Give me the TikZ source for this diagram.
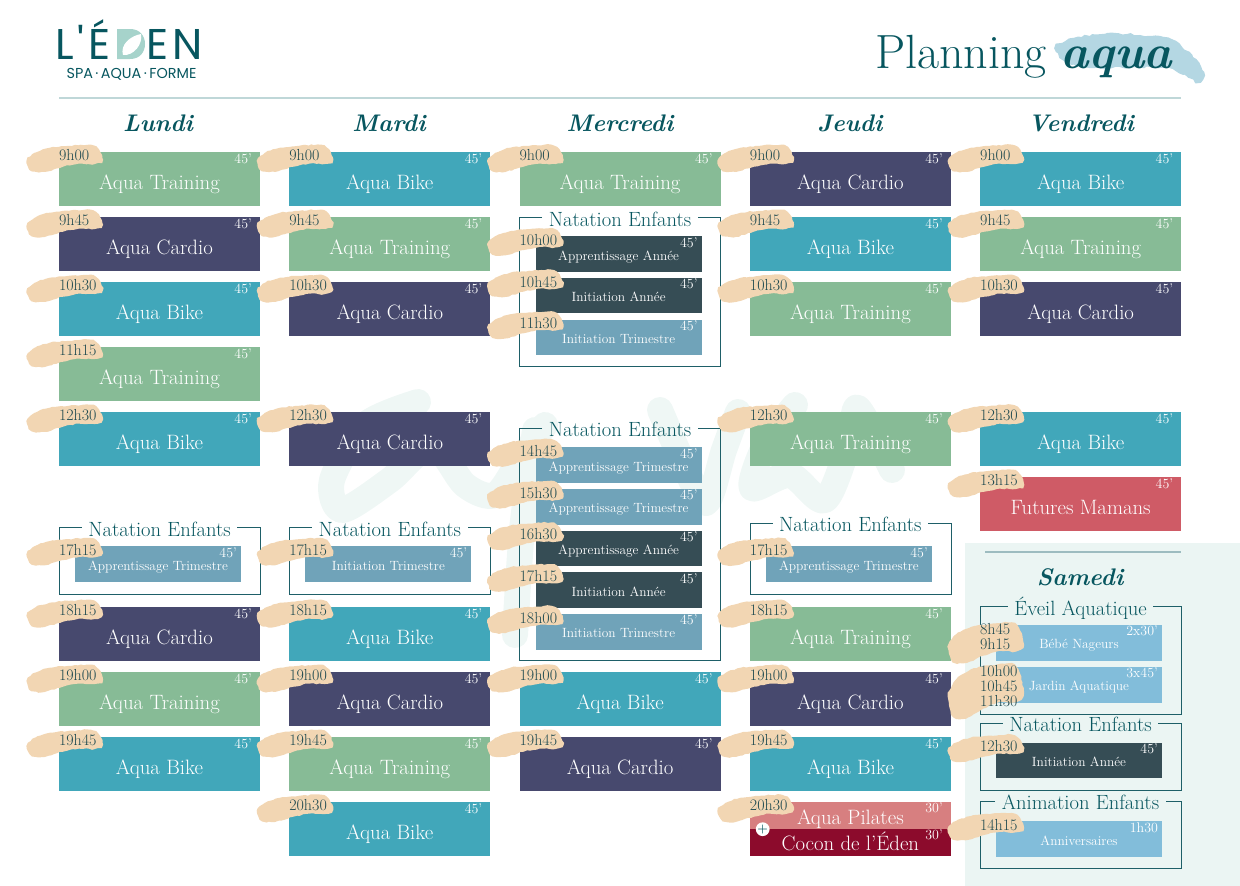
\documentclass[tikz,border=0pt]{standalone}
\usepackage{fontspec}
\usetikzlibrary{positioning,decorations.pathmorphing}
\newfontfamily\logofont[LetterSpace=9]{Poppins}
\newfontfamily\subfont{Poppins}
\newcommand{\fs}[1]{\fontsize{#1}{15}\selectfont}
\definecolor{ink}{HTML}{07565F}
\definecolor{frameink}{HTML}{1E5F68}
\definecolor{clockink}{HTML}{1F4A50}
\definecolor{rulecol}{HTML}{BFD7D8}
\definecolor{tan}{HTML}{F2D6B3}
\definecolor{wash}{HTML}{B4D7E3}
\definecolor{pale}{HTML}{EBF5F3}
\definecolor{ghost}{HTML}{EFF7F5}
\definecolor{logopale}{HTML}{A6D3CB}
\tikzstyle{slotbox}=[inner sep=0pt,minimum width=201pt,minimum height=53.5pt]
\tikzstyle{training}=[slotbox,fill={rgb,255:red,135;green,187;blue,150}]
\tikzstyle{bike}=[slotbox,fill={rgb,255:red,65;green,167;blue,186}]
\tikzstyle{cardio}=[slotbox,fill={rgb,255:red,71;green,73;blue,110}]
\tikzstyle{mamans}=[slotbox,fill={rgb,255:red,207;green,91;blue,102}]
\tikzstyle{kidbox}=[inner sep=0pt,minimum width=166pt,minimum height=35.5pt]
\tikzstyle{trim}=[kidbox,fill={rgb,255:red,112;green,163;blue,185}]
\tikzstyle{annee}=[kidbox,fill={rgb,255:red,54;green,77;blue,85}]
\tikzstyle{sky}=[kidbox,fill={rgb,255:red,130;green,189;blue,218}]
\tikzstyle{slotlabel}=[text=white,anchor=base,inner sep=0pt,font=\fs{20.8},yshift=-11pt]
\tikzstyle{kidlabel}=[text=white,anchor=base,inner sep=0pt,font=\fs{13.4},yshift=-6pt]
\tikzstyle{mins}=[text=white,anchor=north east,inner sep=0pt,font=\fs{14}]
\tikzstyle{clock}=[text=clockink,anchor=north west,inner sep=0pt,align=left,font=\fs{16}]
\tikzstyle{day}=[text=ink,anchor=base,font=\fs{24}\bfseries\itshape]
\tikzstyle{pooltitle}=[text=ink,anchor=base,inner sep=0pt,inner xsep=6.5pt,font=\fs{20.6}]
\tikzstyle{pool}=[draw=frameink,line width=.8pt]
\tikzstyle{ghostline}=[ghost,line width=26pt,line cap=round,line join=round]
\tikzset{brush/.pic={
  \fill[tan,decorate,decoration={random steps,segment length=3pt,amplitude=.6pt}]
    plot[smooth cycle] coordinates {(-32,6) (-24,-2) (-9,-7) (10,-9) (32,-10) (40,-5)
      (44,5) (36,9) (20,9) (4,12) (-14,17) (-27,16)};
}}
% box, then brush, then the texts on top of the brush
\newcommand{\slot}[5]{
  \node[#1] (#2) {};
  \pic at ([yshift=-3pt]#2.north west) {brush};
  \node[clock] (#2t) at ([yshift=3pt]#2.north west) {#3};
  \node[slotlabel] (#2l) at (#2) {#4};
  \node[mins] (#2d) at ([xshift=-8pt,yshift=-2pt]#2.north east) {#5};
}
\newcommand{\kid}[6][]{
  \node[#2] (#3) {};
  \pic[#1] at ([xshift=-16pt,yshift=-2pt]#3.north west) {brush};
  \node[clock] (#3t) at ([xshift=-16pt,yshift=2pt]#3.north west) {#4};
  \node[kidlabel] (#3l) at (#3) {#5};
  \node[mins] (#3d) at ([xshift=-4pt,yshift=-1pt]#3.north east) {#6};
}
\newcommand{\poolframe}[5]{
  \coordinate (#1nw) at (#2-100.5,#3);
  \coordinate (#1ne) at (#2+100.5,#3);
  \coordinate (#1sw) at (#2-100.5,#4);
  \coordinate (#1se) at (#2+100.5,#4);
  \node[pooltitle] (#1) at (#2,#3+8.5) {#5};
  \draw[pool] (#1.west |- #1nw) -- (#1nw) -- (#1sw) -- (#1se) -- (#1ne) -- (#1.east |- #1ne);
}
\begin{document}
\begin{tikzpicture}[x=1pt,y=-1pt,on grid,node distance=65pt and 230.3pt]
  \useasboundingbox (0,0) rectangle (1240,886);

  % faint word behind the grid
  \draw[ghostline] plot[smooth] coordinates
    {(418,402) (365,425) (332,480) (342,510) (390,480) (432,445) (465,485) (495,495) (520,460) (545,425)};
  \draw[ghostline] plot[smooth] coordinates {(535,430) (522,530) (515,635)};
  \draw[ghostline] plot[smooth] coordinates
    {(660,410) (682,460) (706,503) (724,450) (738,412)};
  \draw[ghostline] plot[smooth] coordinates
    {(795,405) (765,445) (752,488) (790,475) (825,500) (850,440) (858,408) (892,470)};

  % header
  \node[anchor=base west,inner sep=0pt,text=ink,font=\logofont\fs{43}] (logol) at (55,59) {L'É};
  \fill[logopale] (117,29) -- (130,29) .. controls (140,29) and (145,36) .. (145,44)
    .. controls (145,52) and (140,59) .. (130,59) -- (117,59) -- cycle;
  \node[anchor=base,inner sep=0pt,text=logopale,font=\subfont\fs{34}] (logod) at (130,56) {D};
  \fill[white] (123,55) .. controls (120,45) and (130,36) .. (141,34)
    .. controls (143,44) and (134,56) .. (123,55) -- cycle;
  \node[anchor=base west,inner sep=0pt,text=ink,font=\logofont\fs{43}] (logoe) at (146,59) {EN};
  \node[anchor=base,inner sep=0pt,text=ink,font=\subfont\fs{14.4}] (logosub) at (131.5,78) {SPA\,·\,AQUA\,·\,FORME};
  \fill[wash,decorate,decoration={random steps,segment length=4pt,amplitude=1.2pt}]
    plot[smooth cycle] coordinates {(1055,48) (1073,38) (1107,33) (1140,35) (1173,40) (1193,57)
      (1204,72) (1200,82) (1183,75) (1167,68) (1123,68) (1090,68) (1067,63)};
  \node[anchor=base west,inner sep=0pt,text=ink,font=\fs{48}] (plan) at (875,68) {Planning};
  \node[anchor=base west,inner sep=0pt,text=ink,font=\fs{48}\bfseries\itshape] (aqua) at (1060,68) {aqua};
  \coordinate (rulel) at (59,98);
  \coordinate (ruler) at (1181,98);
  \draw[rulecol,line width=1.5pt] (rulel) -- (ruler);

  \node[day] (dlu) at (158,131) {Lundi};
  \node[day] (dma) at (389,131) {Mardi};
  \node[day] (dme) at (620,131) {Mercredi};
  \node[day] (dje) at (850,131) {Jeudi};
  \node[day] (dve) at (1081,131) {Vendredi};

  % lundi
  \slot{training,at={(159.5,178.75)}}{lu1}{9h00}{Aqua Training}{45'}
  \slot{cardio,below=of lu1}{lu2}{9h45}{Aqua Cardio}{45'}
  \slot{bike,below=of lu2}{lu3}{10h30}{Aqua Bike}{45'}
  \slot{training,below=of lu3}{lu4}{11h15}{Aqua Training}{45'}
  \slot{bike,below=of lu4}{lu5}{12h30}{Aqua Bike}{45'}
  \poolframe{lup}{159.5}{527.5}{594}{Natation Enfants}
  \kid{trim,below=35.25pt of lup,xshift=-1.5pt}{lu6}{17h15}{Apprentissage Trimestre}{45'}
  \slot{cardio,below=195pt of lu5}{lu7}{18h15}{Aqua Cardio}{45'}
  \slot{training,below=of lu7}{lu8}{19h00}{Aqua Training}{45'}
  \slot{bike,below=of lu8}{lu9}{19h45}{Aqua Bike}{45'}

  % mardi
  \slot{bike,right=of lu1}{ma1}{9h00}{Aqua Bike}{45'}
  \slot{training,below=of ma1}{ma2}{9h45}{Aqua Training}{45'}
  \slot{cardio,below=of ma2}{ma3}{10h30}{Aqua Cardio}{45'}
  \slot{cardio,below=130pt of ma3}{ma4}{12h30}{Aqua Cardio}{45'}
  \poolframe{map}{389.8}{527.5}{594}{Natation Enfants}
  \kid{trim,below=35.25pt of map,xshift=-1.5pt}{ma5}{17h15}{Initiation Trimestre}{45'}
  \slot{bike,below=195pt of ma4}{ma6}{18h15}{Aqua Bike}{45'}
  \slot{cardio,below=of ma6}{ma7}{19h00}{Aqua Cardio}{45'}
  \slot{training,below=of ma7}{ma8}{19h45}{Aqua Training}{45'}
  \slot{bike,below=of ma8}{ma9}{20h30}{Aqua Bike}{45'}

  % mercredi
  \slot{training,right=of ma1}{me1}{9h00}{Aqua Training}{45'}
  \poolframe{mep}{620.1}{217.5}{366}{Natation Enfants}
  \kid{annee,below=35.25pt of mep,xshift=-1.5pt}{me2}{10h00}{Apprentissage Année}{45'}
  \kid{annee,below=41.6pt of me2}{me3}{10h45}{Initiation Année}{45'}
  \kid{trim,below=41.6pt of me3}{me4}{11h30}{Initiation Trimestre}{45'}
  \poolframe{meq}{620.1}{428}{660}{Natation Enfants}
  \kid{trim,below=35.75pt of meq,xshift=-1.5pt}{me5}{14h45}{Apprentissage Trimestre}{45'}
  \kid{trim,below=41.7pt of me5}{me6}{15h30}{Apprentissage Trimestre}{45'}
  \kid{annee,below=41.7pt of me6}{me7}{16h30}{Apprentissage Année}{45'}
  \kid{annee,below=41.7pt of me7}{me8}{17h15}{Initiation Année}{45'}
  \kid{trim,below=41.7pt of me8}{me9}{18h00}{Initiation Trimestre}{45'}
  \slot{bike,right=of ma7}{me10}{19h00}{Aqua Bike}{45'}
  \slot{cardio,below=of me10}{me11}{19h45}{Aqua Cardio}{45'}

  % jeudi
  \slot{cardio,right=of me1}{je1}{9h00}{Aqua Cardio}{45'}
  \slot{bike,below=of je1}{je2}{9h45}{Aqua Bike}{45'}
  \slot{training,below=of je2}{je3}{10h30}{Aqua Training}{45'}
  \slot{training,below=130pt of je3}{je4}{12h30}{Aqua Training}{45'}
  \poolframe{jep}{850.4}{523}{594}{Natation Enfants}
  \kid{trim,below=39.75pt of jep,xshift=-1.5pt}{je5}{17h15}{Apprentissage Trimestre}{45'}
  \slot{training,below=195pt of je4}{je6}{18h15}{Aqua Training}{45'}
  \slot{cardio,below=of je6}{je7}{19h00}{Aqua Cardio}{45'}
  \slot{bike,below=of je7}{je8}{19h45}{Aqua Bike}{45'}
  \node[slotbox,minimum height=27pt,fill={rgb,255:red,215;green,127;blue,128},below=51.75pt of je8] (je9) {};
  \node[slotbox,minimum height=27pt,fill={rgb,255:red,140;green,11;blue,44},below=27pt of je9] (je10) {};
  \pic at ([yshift=-3pt]je9.north west) {brush};
  \node[clock] (je9t) at ([yshift=3pt]je9.north west) {20h30};
  \node[slotlabel,yshift=2pt] (je9l) at (je9) {Aqua Pilates};
  \node[mins] (je9d) at ([xshift=-8pt,yshift=-1pt]je9.north east) {30'};
  \node[slotlabel,yshift=3.5pt] (je10l) at (je10) {Cocon de l'Éden};
  \node[mins] (je10d) at ([xshift=-8pt,yshift=-1pt]je10.north east) {30'};
  \node[circle,fill=white,inner sep=0pt,minimum size=12pt,text=ink,font=\fs{12}\bfseries] (plusbtn)
    at ([xshift=13pt]je9.south west) {+};

  % vendredi
  \slot{bike,right=of je1}{ve1}{9h00}{Aqua Bike}{45'}
  \slot{training,below=of ve1}{ve2}{9h45}{Aqua Training}{45'}
  \slot{cardio,below=of ve2}{ve3}{10h30}{Aqua Cardio}{45'}
  \slot{bike,below=130pt of ve3}{ve4}{12h30}{Aqua Bike}{45'}
  \slot{mamans,below=of ve4}{ve5}{13h15}{Futures Mamans}{45'}

  % samedi
  \node[fill=pale,inner sep=0pt,minimum width=275pt,minimum height=343pt] (satpanel) at (1102.5,714.5) {};
  \coordinate (satl) at (985,552);
  \coordinate (satr) at (1181,552);
  \draw[draw={rgb,255:red,157;green,188;blue,192},line width=1.2pt] (satl) -- (satr);
  \node[day] (dsa) at (1080,585) {Samedi};
  \poolframe{sap}{1080.5}{606.7}{714}{Éveil Aquatique}
  \kid[yshift=-10.5pt,yscale=1.5]{sky,below=35pt of sap,xshift=-1.5pt}{sa1}{8h45\\9h15}{Bébé Nageurs}{2x30'}
  \kid[yshift=-15pt,yscale=2.05]{sky,below=41.8pt of sa1}{sa2}{10h00\\10h45\\11h30}{Jardin Aquatique}{3x45'}
  \poolframe{saq}{1080.5}{723}{790.7}{Natation Enfants}
  \kid{annee,below=36.25pt of saq,xshift=-1.5pt}{sa3}{12h30}{Initiation Année}{45'}
  \poolframe{sar}{1080.5}{801}{868}{Animation Enfants}
  \kid{sky,below=36.75pt of sar,xshift=-1.5pt}{sa4}{14h15}{Anniversaires}{1h30}
\end{tikzpicture}
\end{document}
